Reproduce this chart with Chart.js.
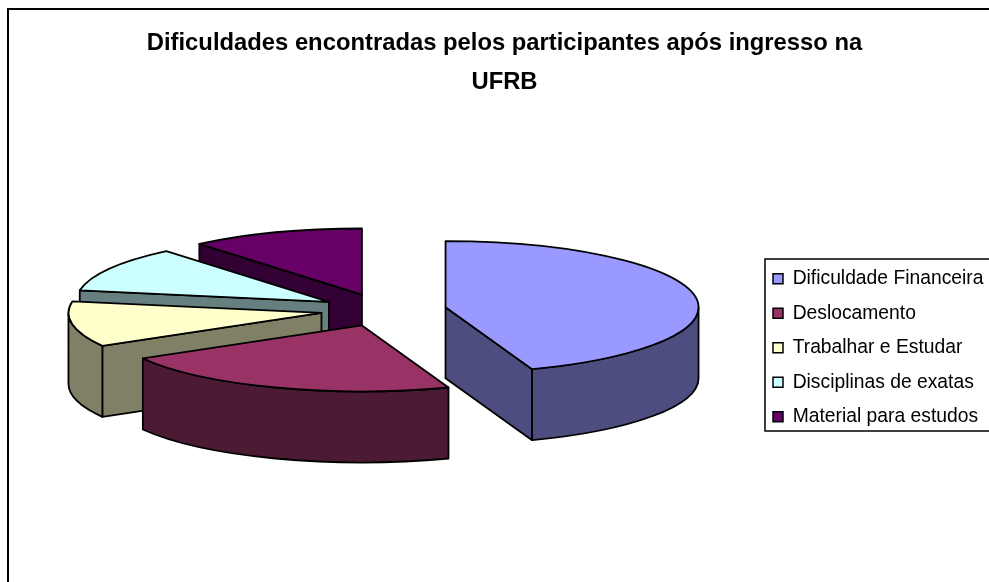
<!DOCTYPE html>
<html>
<head>
<meta charset="utf-8">
<script src="https://cdn.jsdelivr.net/npm/chart.js@4/dist/chart.umd.min.js"></script>
<style>html,body{margin:0;padding:0;background:#fff;overflow:hidden}canvas{display:block}</style>
</head>
<body>
<canvas id="c" width="989" height="582"></canvas>
<script>
const titleLines = ['Dificuldades encontradas pelos participantes após ingresso na', 'UFRB'];
const categories = ['Dificuldade Financeira', 'Deslocamento', 'Trabalhar e Estudar', 'Disciplinas de exatas', 'Material para estudos'];
const values = [8, 4, 2, 2, 2];
const topColors = ['#9999FF', '#993366', '#FFFFCC', '#CCFFFF', '#660066'];
const wallColors = ['#4D4D80', '#4D1A33', '#808066', '#668080', '#330033'];

const view = { cx: 383.5, cy: 310, rx: 253, tilt: 0.261, explode: 63, depth: 71 };
const legendBox = { left: 765, top: 259, right: 995, bottom: 431, markerX: 773, firstY: 269 };

function slicePath(ctx, ax, ay, ry, a, b) {
  ctx.beginPath();
  ctx.moveTo(ax, ay);
  ctx.ellipse(ax, ay, view.rx, ry, 0, a, b);
  ctx.closePath();
}

const pie3d = {
  id: 'pie3d',
  beforeDatasetDraw(chart, args) {
    const ctx = chart.ctx;
    const ry = view.rx * view.tilt;
    const meta = args.meta;
    const items = meta.data.map((arc, i) => {
      const mid = (arc.startAngle + arc.endAngle) / 2;
      return {
        arc, i,
        ax: view.cx + Math.cos(mid) * view.explode,
        ay: view.cy + Math.sin(mid) * view.explode * view.tilt
      };
    }).sort((p, q) => p.ay - q.ay);

    ctx.save();
    ctx.strokeStyle = '#000';
    ctx.lineWidth = 1.8;
    ctx.lineJoin = 'round';
    for (const it of items) {
      const { arc, i, ax, ay } = it;
      const s = arc.startAngle, e = arc.endAngle, d = view.depth;
      ctx.fillStyle = wallColors[i];
      const radial = ang => {
        const px = ax + Math.cos(ang) * view.rx, py = ay + Math.sin(ang) * ry;
        ctx.beginPath();
        ctx.moveTo(ax, ay);
        ctx.lineTo(px, py);
        ctx.lineTo(px, py + d);
        ctx.lineTo(ax, ay + d);
        ctx.closePath();
        ctx.fill();
        ctx.stroke();
      };
      if (Math.cos(s) < 0) radial(s);
      if (Math.cos(e) > 0) radial(e);
      const a = Math.max(s, 0), b = Math.min(e, Math.PI);
      if (b > a) {
        ctx.beginPath();
        ctx.ellipse(ax, ay, view.rx, ry, 0, a, b);
        ctx.ellipse(ax, ay + d, view.rx, ry, 0, b, a, true);
        ctx.closePath();
        ctx.fill();
        ctx.stroke();
      }
      ctx.save();
      ctx.translate(ax, ay);
      ctx.scale(1, view.tilt);
      ctx.translate(-arc.x, -arc.y);
      arc.draw(ctx);
      ctx.restore();
      slicePath(ctx, ax, ay, ry, s, e);
      ctx.stroke();
    }
    ctx.restore();
    return false;
  },
  afterLayout(chart) {
    const lg = chart.legend;
    const pad = lg.options.labels.padding;
    lg.left = legendBox.markerX - pad;
    lg.right = lg.left + lg.width;
    lg.top = legendBox.firstY - pad;
    lg.bottom = chart.height + 200;
  },
  beforeDraw(chart) {
    const ctx = chart.ctx;
    ctx.save();
    ctx.fillStyle = '#fff';
    ctx.fillRect(0, 0, chart.width, chart.height);
    ctx.strokeStyle = '#000';
    ctx.lineWidth = 2;
    ctx.strokeRect(8, 9, 1100, 700);
    ctx.lineWidth = 1.5;
    ctx.strokeRect(legendBox.left, legendBox.top, legendBox.right - legendBox.left, legendBox.bottom - legendBox.top);
    ctx.restore();
  }
};

new Chart(document.getElementById('c'), {
  type: 'pie',
  data: {
    labels: categories,
    datasets: [{ data: values, backgroundColor: topColors, borderWidth: 0, radius: view.rx }]
  },
  options: {
    responsive: false,
    animation: false,
    layout: { padding: { left: 20, top: 0, right: 0, bottom: 0 } },
    plugins: {
      tooltip: { enabled: false },
      title: {
        display: true,
        text: titleLines,
        color: '#000',
        font: { family: '"Liberation Sans", Arial, sans-serif', size: 23.8, weight: 'bold', lineHeight: 1.65 },
        padding: { top: 24, bottom: 0 }
      },
      legend: {
        display: true,
        position: 'right',
        align: 'start',
        labels: {
          color: '#000',
          boxWidth: 10,
          boxHeight: 10,
          padding: 15.25,
          font: { family: '"Liberation Sans", Arial, sans-serif', size: 19.3 },
          generateLabels: chart => categories.map((t, i) => ({
            text: t, fillStyle: topColors[i], strokeStyle: '#000', lineWidth: 1.5, index: i, hidden: false, fontColor: '#000'
          }))
        }
      }
    }
  },
  plugins: [pie3d]
});
</script>
</body>
</html>
